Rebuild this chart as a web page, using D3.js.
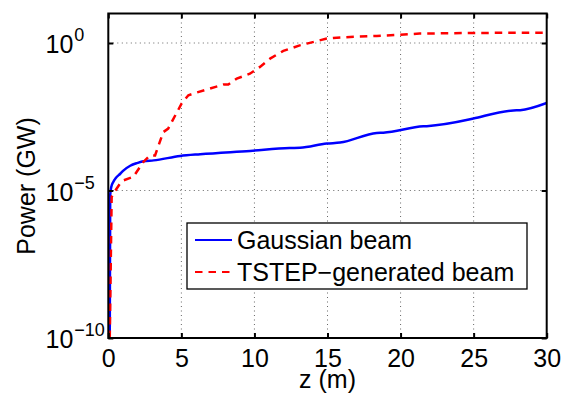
<!DOCTYPE html>
<html>
<head>
<meta charset="utf-8">
<script src="https://cdn.jsdelivr.net/npm/d3@7"></script>
<style>
  body { margin: 0; background: #fff; }
  svg { font-family: "Liberation Sans", Arial, sans-serif; }
</style>
</head>
<body>
<svg id="chart" width="561" height="395"></svg>
<script>
// z (m) and power (GW)
var gaussZ = [0.1, 0.13, 0.2, 0.34, 0.5, 0.82, 1.05, 1.5, 2.0, 2.41, 3.1, 4.92, 6.29, 9.7, 12.4, 13.12, 14.95, 15.86, 18.37, 18.82, 21.56, 21.79, 24.76, 24.98, 27.72, 28.18, 30];
var gaussP = [1e-10, 7e-6, 1.3e-5, 1.95e-5, 2.6e-5, 3.7e-5, 4.8e-5, 6.9e-5, 8.6e-5, 9.8e-5, 1.05e-4, 1.48e-4, 1.7e-4, 2.2e-4, 2.75e-4, 2.8e-4, 3.9e-4, 4.2e-4, 8.9e-4, 9.1e-4, 1.5e-3, 1.52e-3, 2.6e-3, 2.75e-3, 5.2e-3, 5.3e-3, 9.3e-3];

var tstepZ = [0.1, 0.23, 0.34, 0.8, 1.03, 1.71, 2.4, 2.85, 3.2, 3.76, 4.1, 5.02, 5.48, 6.05, 7.87, 8.21, 8.79, 9.69, 10.38, 11.07, 11.98, 13.1, 13.58, 14.95, 15.4, 16.54, 18.37, 19.97, 21.3, 24.98, 30];
var tstepP = [1e-10, 6e-6, 7.8e-6, 1.7e-5, 2.2e-5, 2.9e-5, 9.3e-5, 1.55e-4, 1.55e-4, 9.5e-4, 1.26e-3, 8.9e-3, 1.7e-2, 2.1e-2, 3.9e-2, 3.9e-2, 6.2e-2, 9.1e-2, 0.155, 0.295, 0.54, 0.83, 0.95, 1.41, 1.48, 1.6, 1.74, 1.9, 2.09, 2.19, 2.24];

var xTicks = [0, 5, 10, 15, 20, 25, 30];
var yTicks = [1e-10, 1e-5, 1e0];
var yTickExp = ["\u221210", "\u22125", "0"];
var seriesNames = ["Gaussian beam", "TSTEP\u2212generated beam"];

var svg = d3.select("#chart"),
    margin = {top: 13.5, right: 14.3, bottom: 57, left: 108.3},
    width = +svg.attr("width") - margin.left - margin.right,
    height = +svg.attr("height") - margin.top - margin.bottom;

var g = svg.append("g")
    .attr("transform", "translate(" + margin.left + "," + margin.top + ")");

var x = d3.scaleLinear().domain([0, 30]).range([0, width]);
var y = d3.scaleLog().domain([1e-10, 1e1]).range([height, 0]);

// dotted grid
g.selectAll(".vgrid")
    .data(xTicks.slice(1, -1))
    .enter().append("line")
    .attr("x1", d => x(d)).attr("x2", d => x(d))
    .attr("y1", 0).attr("y2", height)
    .attr("stroke", "#666")
    .attr("stroke-width", 1)
    .attr("stroke-dasharray", "1,3.5");

g.selectAll(".hgrid")
    .data(yTicks.slice(1))
    .enter().append("line")
    .attr("x1", 0).attr("x2", width)
    .attr("y1", d => y(d)).attr("y2", d => y(d))
    .attr("stroke", "#666")
    .attr("stroke-width", 1)
    .attr("stroke-dasharray", "1,3.5");

// curves
var clip = g.append("clipPath").attr("id", "clip")
    .append("rect").attr("width", width).attr("height", height);

var line = d3.line()
    .x(d => x(d[0]))
    .y(d => y(d[1]));

var gauss = gaussZ.map((z, i) => [z, gaussP[i]]);
var tstep = tstepZ.map((z, i) => [z, tstepP[i]]);

g.append("path")
    .datum(gauss)
    .attr("clip-path", "url(#clip)")
    .attr("fill", "none")
    .attr("stroke", "#0000ff")
    .attr("stroke-width", 2.5)
    .attr("d", line.curve(d3.curveMonotoneX));

g.append("path")
    .datum(tstep)
    .attr("clip-path", "url(#clip)")
    .attr("fill", "none")
    .attr("stroke", "#ff0000")
    .attr("stroke-width", 2.5)
    .attr("stroke-dasharray", "7.5,6")
    .attr("d", line.curve(d3.curveLinear));

// axes, ticks pointing inward
function noDomain(sel) { sel.select(".domain").remove(); }

g.append("g")
    .attr("transform", "translate(0," + height + ")")
    .call(d3.axisBottom(x).tickValues(xTicks).tickSizeInner(-5).tickSizeOuter(0).tickPadding(11))
    .call(noDomain)
    .call(a => a.selectAll("line").attr("stroke", "#000").attr("stroke-width", 2))
    .call(a => a.selectAll("text").style("font-size", "25px").attr("fill", "#000")
        .style("font-family", "Liberation Sans, Arial, sans-serif"));

g.append("g")
    .call(d3.axisTop(x).tickValues(xTicks).tickSizeInner(-5).tickSizeOuter(0).tickFormat(""))
    .call(noDomain)
    .call(a => a.selectAll("line").attr("stroke", "#000").attr("stroke-width", 2));

g.append("g")
    .call(d3.axisLeft(y).tickValues(yTicks).tickSizeInner(-5).tickSizeOuter(0).tickFormat(""))
    .call(noDomain)
    .call(a => a.selectAll("line").attr("stroke", "#000").attr("stroke-width", 2));

g.append("g")
    .attr("transform", "translate(" + width + ",0)")
    .call(d3.axisRight(y).tickValues(yTicks).tickSizeInner(-5).tickSizeOuter(0).tickFormat(""))
    .call(noDomain)
    .call(a => a.selectAll("line").attr("stroke", "#000").attr("stroke-width", 2));

// y tick labels as 10 with superscript
var ylab = g.selectAll(".ylab")
    .data(yTicks)
    .enter().append("g")
    .attr("transform", d => "translate(-35," + y(d) + ")");

ylab.append("text")
    .attr("text-anchor", "end")
    .attr("y", 10)
    .style("font-size", "25px")
    .text("10");

ylab.append("text")
    .attr("x", 1)
    .attr("y", -2)
    .style("font-size", "18px")
    .text((d, i) => yTickExp[i]);

// box
g.append("rect")
    .attr("width", width)
    .attr("height", height)
    .attr("fill", "none")
    .attr("stroke", "#000")
    .attr("stroke-width", 2);

// axis titles
g.append("text")
    .attr("x", width / 2)
    .attr("y", height + 50)
    .style("text-anchor", "middle")
    .style("font-size", "25px")
    .text("z (m)");

g.append("text")
    .attr("transform", "rotate(-90)")
    .attr("x", -(186 - margin.top))
    .attr("y", 35 - margin.left)
    .style("text-anchor", "middle")
    .style("font-size", "25px")
    .text("Power (GW)");

// legend
var legend = g.append("g")
    .attr("transform", "translate(" + (187 - margin.left) + "," + (223 - margin.top) + ")");

legend.append("rect")
    .attr("width", 340)
    .attr("height", 66)
    .attr("fill", "#fff")
    .attr("stroke", "#000")
    .attr("stroke-width", 1.3);

var legendData = [
    {label: seriesNames[0], color: "#0000ff", dash: null},
    {label: seriesNames[1], color: "#ff0000", dash: "7.5,6"}
];

legend.selectAll("line")
    .data(legendData)
    .enter().append("line")
    .attr("x1", 8).attr("x2", 45)
    .attr("y1", (d, i) => 17 + i * 32)
    .attr("y2", (d, i) => 17 + i * 32)
    .attr("stroke", d => d.color)
    .attr("stroke-width", 2)
    .attr("stroke-dasharray", d => d.dash);

legend.selectAll("text")
    .data(legendData)
    .enter().append("text")
    .attr("x", 50)
    .attr("y", (d, i) => 26 + i * 32)
    .style("font-size", "25px")
    .text(d => d.label);
</script>
</body>
</html>
